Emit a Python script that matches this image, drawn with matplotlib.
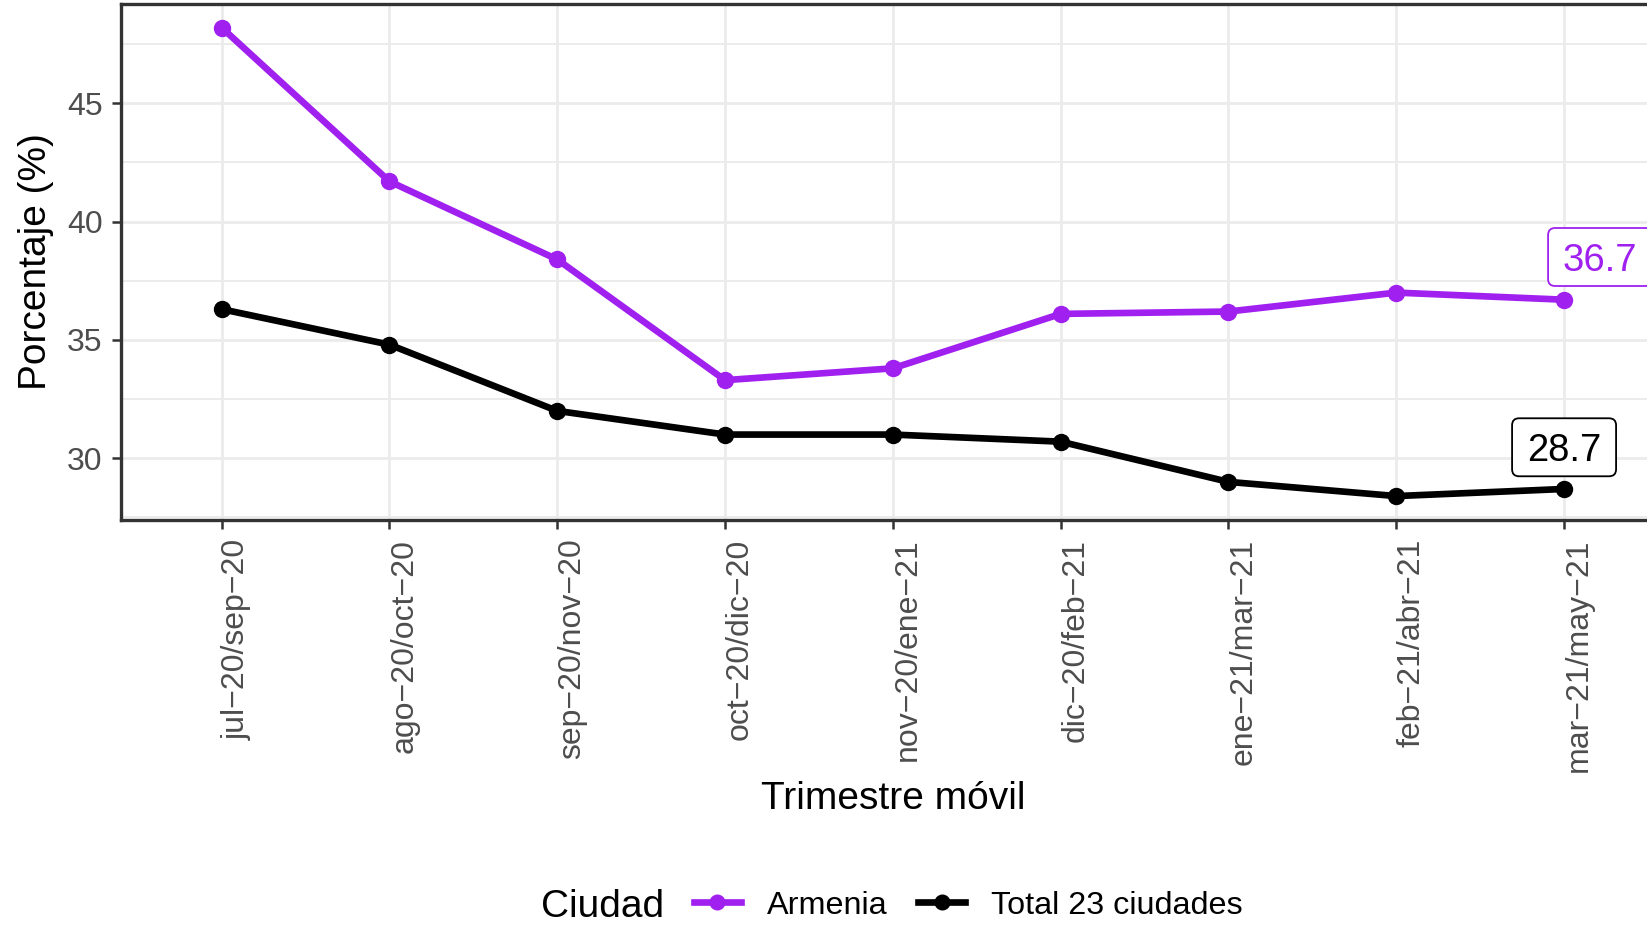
import matplotlib
matplotlib.use("Agg")
import matplotlib.pyplot as plt
from matplotlib.lines import Line2D
from matplotlib.patches import FancyBboxPatch
from matplotlib.transforms import IdentityTransform
import numpy as np

# ---- data ----
categories = ["jul−20/sep−20", "ago−20/oct−20", "sep−20/nov−20", "oct−20/dic−20",
              "nov−20/ene−21", "dic−20/feb−21", "ene−21/mar−21", "feb−21/abr−21",
              "mar−21/may−21"]
armenia = [48.2, 41.7, 38.4, 33.3, 33.8, 36.1, 36.2, 37.0, 36.7]
total = [36.3, 34.8, 32.0, 31.0, 31.0, 30.7, 29.0, 28.4, 28.7]
series_names = ["Armenia", "Total 23 ciudades"]
series_colors = ["#A020F0", "#000000"]
yticks = [30, 35, 40, 45]
legend_title = "Ciudad"
x_title = "Trimestre móvil"
y_title = "Porcentaje (%)"

plt.rcParams["font.family"] = ["Liberation Sans", "DejaVu Sans"]

W, H = 1647, 926
fig = plt.figure(figsize=(W / 100, H / 100), dpi=100)
fig.patch.set_facecolor("white")

left_px, top_px, bottom_px = 121, 4.2, 519.5
step_px = 167.8
ax = fig.add_axes([left_px / W, 1 - bottom_px / H,
                   9.2 * step_px / W, (bottom_px - top_px) / H])

x = np.arange(len(categories))
series = [armenia, total]
for vals, name, col in zip(series, series_names, series_colors):
    ax.plot(x, vals, color=col, lw=4.8, marker="o", markersize=11.5,
            solid_capstyle="butt", zorder=3, clip_on=False, label=name)

ax.set_xlim(-0.6, len(categories) - 1 + 0.6)
allv = np.array(armenia + total)
span = allv.max() - allv.min()
ax.set_ylim(allv.min() - 0.05 * span, allv.max() + 0.05 * span)

ax.set_yticks(yticks)
ax.set_yticks([v + 2.5 for v in [yticks[0] - 5] + yticks], minor=True)
ax.set_xticks(x)
ax.set_xticklabels(categories)
ax.grid(which="major", color="#EBEBEB", lw=2.0, zorder=0)
ax.grid(which="minor", axis="y", color="#EBEBEB", lw=1.4, zorder=0)
ax.set_axisbelow(True)

for s in ax.spines.values():
    s.set_color("#333333")
    s.set_linewidth(2.4)

ax.tick_params(axis="both", which="major", length=6.3, width=1.8, color="#333333",
               labelcolor="#4D4D4D", labelsize=23)
ax.tick_params(axis="y", which="minor", length=0)
ax.tick_params(axis="y", pad=7.0)
ax.tick_params(axis="x", pad=7.5)
for lab in ax.get_xticklabels():
    lab.set_rotation(90)
    lab.set_ha("left")
    lab.set_va("top")

ax.set_xlabel(x_title, fontsize=28, color="black")
ax.set_ylabel(y_title, fontsize=28, color="black")
ax.xaxis.set_label_coords(0.5, (bottom_px - 781) / (bottom_px - top_px))
ax.yaxis.set_label_coords((54 - left_px) / (9.2 * step_px), 0.5)

# ---- end labels ----
fs_lab = 27.5
fs_px = fs_lab * 100 / 72
label_offsets = [(36, 42.7), (0, 41.7)]
box_w, box_h = 104, 58
for vals, col, (dx, dy) in zip(series, series_colors, label_offsets):
    px, py = ax.transData.transform((x[-1], vals[-1]))
    cx, cy = px + dx, py + dy
    patch = FancyBboxPatch((cx - box_w / 2, cy - box_h / 2), box_w, box_h,
                           boxstyle="round,pad=0,rounding_size=7",
                           transform=IdentityTransform(), facecolor="white",
                           edgecolor=col, lw=1.3, zorder=5)
    fig.patches.append(patch)
    patch.set_figure(fig)
    fig.text(cx, cy - 0.716 * fs_px / 2, f"{vals[-1]:.1f}", transform=IdentityTransform(),
             ha="center", va="baseline", fontsize=fs_lab, color=col, zorder=6)

# ---- legend ----
handles = [Line2D([], [], color=c, lw=4.8, marker="o", markersize=10.5) for c in series_colors]
leg_y = 1 - 905.5 / H
fig.legend(handles, series_names, loc="center left", bbox_to_anchor=(694 / W, leg_y),
           ncol=2, frameon=False, fontsize=23.3, handlelength=1.45, handletextpad=0.8,
           columnspacing=0.95, borderpad=0, borderaxespad=0)
fig.text(541 / W, 1 - 917 / H, legend_title, ha="left", va="baseline", fontsize=28,
         color="black")

fig.savefig("out.png", dpi=100)
